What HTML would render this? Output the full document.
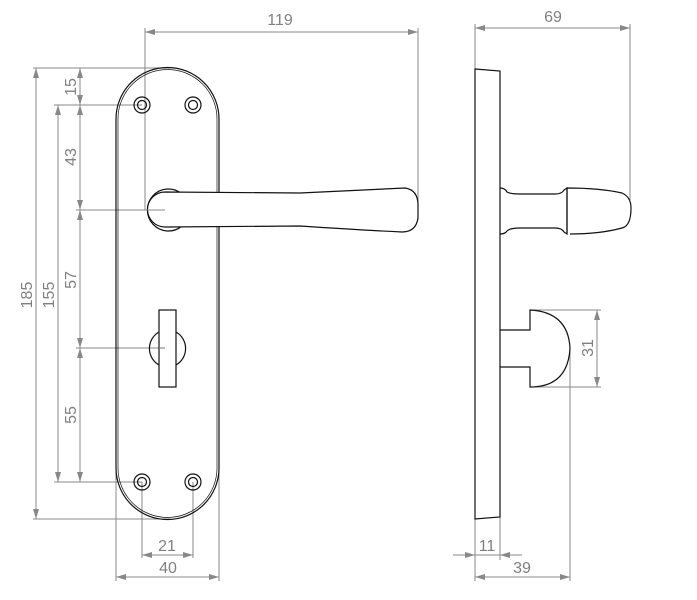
<!DOCTYPE html>
<html><head><style>body{margin:0;background:#fff}svg{display:block}text{font-family:"Liberation Sans",sans-serif;font-size:16px;fill:#808080}</style></head><body>
<svg width="697" height="600" viewBox="0 0 697 600" xmlns="http://www.w3.org/2000/svg">
<defs>
<marker id="a" viewBox="0 0 10 6" refX="10" refY="3" markerWidth="10" markerHeight="6" orient="auto-start-reverse" markerUnits="userSpaceOnUse"><path d="M0,0L10,3L0,6z" fill="#888"/></marker>
</defs>
<g stroke="#888" stroke-width="1" fill="none">
<line x1="145" y1="32" x2="418" y2="32" marker-start="url(#a)" marker-end="url(#a)"/>
<line x1="145" y1="28" x2="145" y2="210"/><line x1="418" y1="28" x2="418" y2="205"/>
<line x1="36" y1="68" x2="36" y2="519" marker-start="url(#a)" marker-end="url(#a)"/>
<line x1="33" y1="68" x2="170" y2="68"/><line x1="33" y1="519" x2="170" y2="519"/>
<line x1="58" y1="105" x2="58" y2="482" marker-start="url(#a)" marker-end="url(#a)"/>
<line x1="54" y1="105" x2="142" y2="105"/><line x1="54" y1="482" x2="142" y2="482"/>
<line x1="80" y1="68" x2="80" y2="105" marker-start="url(#a)" marker-end="url(#a)"/>
<line x1="80" y1="105" x2="80" y2="210" marker-start="url(#a)" marker-end="url(#a)"/>
<line x1="80" y1="210" x2="80" y2="348" marker-start="url(#a)" marker-end="url(#a)"/>
<line x1="80" y1="348" x2="80" y2="482" marker-start="url(#a)" marker-end="url(#a)"/>
<line x1="76" y1="210" x2="165" y2="210"/><line x1="76" y1="348" x2="165" y2="348"/>
<line x1="142" y1="555" x2="193" y2="555" marker-start="url(#a)" marker-end="url(#a)"/>
<line x1="142" y1="482" x2="142" y2="558"/><line x1="193" y1="482" x2="193" y2="558"/>
<line x1="116" y1="577" x2="219" y2="577" marker-start="url(#a)" marker-end="url(#a)"/>
<line x1="116" y1="300" x2="116" y2="581"/><line x1="219" y1="300" x2="219" y2="581"/>
<line x1="475" y1="28" x2="630" y2="28" marker-start="url(#a)" marker-end="url(#a)"/>
<line x1="475" y1="24" x2="475" y2="69"/><line x1="630" y1="24" x2="630" y2="200"/>
<line x1="597" y1="310" x2="597" y2="387" marker-start="url(#a)" marker-end="url(#a)"/>
<line x1="530" y1="310" x2="601" y2="310"/><line x1="530" y1="387" x2="601" y2="387"/>
<line x1="453" y1="555" x2="475" y2="555" marker-end="url(#a)"/>
<line x1="522" y1="555" x2="500" y2="555" marker-end="url(#a)"/>
<line x1="475" y1="555" x2="500" y2="555"/>
<line x1="475" y1="577" x2="570" y2="577" marker-start="url(#a)" marker-end="url(#a)"/>
<line x1="475" y1="519" x2="475" y2="581"/><line x1="500" y1="517" x2="500" y2="560"/>
<line x1="570" y1="348" x2="570" y2="581"/>
</g>
<g stroke="#111" stroke-width="1.2" fill="none">
<path d="M116,119 A51.5,51.5 0 0 1 219,119 L219,468 A51.5,51.5 0 0 1 116,468 Z"/>
<path d="M118,119 A49.5,49.5 0 0 1 217,119 L217,468 A49.5,49.5 0 0 1 118,468 Z" stroke-width="0.7"/>
<circle cx="142" cy="105" r="8"/><circle cx="142" cy="105" r="4.5"/>
<circle cx="193" cy="105" r="8"/><circle cx="193" cy="105" r="4.5"/>
<circle cx="142" cy="482" r="8"/><circle cx="142" cy="482" r="4.5"/>
<circle cx="193" cy="482" r="8"/><circle cx="193" cy="482" r="4.5"/>
<path d="M182,194 A21,21 0 1 0 182,226" fill="#fff"/>
<path d="M165,192 L300,193 Q360,190 405,188 Q418,190 418,205 L418,218 Q416,232 402,232 Q360,230 300,226 L165,227 A17.5,17.5 0 0 1 165,192 Z" fill="#fff"/>
<line x1="145" y1="210" x2="165" y2="210" stroke="#888" stroke-width="1"/>
<path d="M176,332 A19,19 0 0 1 176,365 M159,332 A19,19 0 0 0 159,365"/>
<rect x="159" y="310" width="17" height="77" fill="none"/>
<line x1="159" y1="348" x2="165" y2="348" stroke="#888"/>
<path d="M475,69 L500,71 L500,517 L475,519 Z"/>
<path d="M500,188 Q505,188 507,192 Q510,194 520,194 L555,194 Q562,194 564,190 L567,188 L567,234 L564,232 Q562,228 555,228 L520,228 Q510,228 507,231 Q505,234 500,234"/>
<path d="M567,188 Q600,188 622,193 Q631,197 631,208 Q631,226 622,228 Q600,234 570,234 M567,188 L567,234"/>
<path d="M500,330 L530,330 L530,310 Q568,312 570,348 Q568,387 530,387 L530,367 L500,367"/>
</g>
<text x="280" y="25" text-anchor="middle">119</text>
<text x="553" y="22" text-anchor="middle">69</text>
<text x="167" y="551" text-anchor="middle">21</text>
<text x="168" y="573" text-anchor="middle">40</text>
<text x="487" y="551" text-anchor="middle">11</text>
<text x="522" y="573" text-anchor="middle">39</text>
<text transform="translate(32,295) rotate(-90)" text-anchor="middle">185</text>
<text transform="translate(54,295) rotate(-90)" text-anchor="middle">155</text>
<text transform="translate(76,87) rotate(-90)" text-anchor="middle">15</text>
<text transform="translate(76,157) rotate(-90)" text-anchor="middle">43</text>
<text transform="translate(76,280) rotate(-90)" text-anchor="middle">57</text>
<text transform="translate(76,415) rotate(-90)" text-anchor="middle">55</text>
<text transform="translate(593,348) rotate(-90)" text-anchor="middle">31</text>
</svg>
</body></html>
